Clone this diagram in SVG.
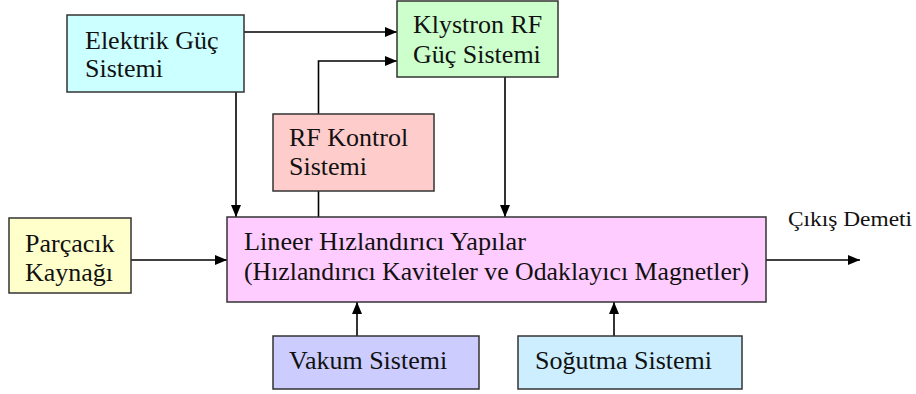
<svg xmlns="http://www.w3.org/2000/svg" width="916" height="394" viewBox="0 0 916 394">
<defs>
<marker id="ah" viewBox="0 0 12 10" refX="12" refY="5" markerWidth="12" markerHeight="10" markerUnits="userSpaceOnUse" orient="auto">
<path d="M0,0 L12,5 L0,10 Z" fill="#000"/>
</marker>
<style>
.box{stroke:#333;stroke-width:1.5}
.t{font-family:"Liberation Serif","Times New Roman",serif;font-size:26px;fill:#111}
.c{fill:none;stroke:#000;stroke-width:1.6;marker-end:url(#ah)}
.l{fill:none;stroke:#000;stroke-width:1.6}
</style>
</defs>
<rect width="916" height="394" fill="#fff"/>
<g id="connectors">
<path class="c" d="M244,32 H397"/>
<path class="l" d="M318.5,217 V114"/>
<path class="c" d="M318.5,114 V61 H397"/>
<path class="c" d="M236,92 V217"/>
<path class="c" d="M505,77 V217"/>
<path class="c" d="M131,260 H227"/>
<path class="c" d="M766,260 H860"/>
<path class="c" d="M357,336 V302"/>
<path class="c" d="M614,336 V302"/>
</g>
<g id="elektrik">
<rect class="box" x="67" y="15" width="177" height="77" fill="#ccffff"/>
<text class="t" x="85" y="49">Elektrik Güç</text>
<text class="t" x="85" y="77">Sistemi</text>
</g>
<g id="klystron">
<rect class="box" x="397" y="1" width="161" height="76" fill="#ccffcc"/>
<text class="t" x="413" y="33">Klystron RF</text>
<text class="t" x="413" y="63">Güç Sistemi</text>
</g>
<g id="rfkontrol">
<rect class="box" x="273" y="114" width="161" height="77" fill="#ffcccc"/>
<text class="t" x="289" y="146">RF Kontrol</text>
<text class="t" x="289" y="175">Sistemi</text>
</g>
<g id="parcacik">
<rect class="box" x="9" y="218" width="122" height="75" fill="#ffffcc"/>
<text class="t" x="25" y="252">Parçacık</text>
<text class="t" x="25" y="281">Kaynağı</text>
</g>
<g id="linac">
<rect class="box" x="227" y="217" width="539" height="85" fill="#ffccff"/>
<text class="t" x="244" y="250" textLength="282" lengthAdjust="spacingAndGlyphs">Lineer Hızlandırıcı Yapılar</text>
<text class="t" x="244" y="280" textLength="505" lengthAdjust="spacingAndGlyphs">(Hızlandırıcı Kaviteler ve Odaklayıcı Magnetler)</text>
</g>
<g id="cikis">
<text class="t" x="788" y="226" style="font-size:21px" textLength="124" lengthAdjust="spacingAndGlyphs">Çıkış Demeti</text>
</g>
<g id="vakum">
<rect class="box" x="273" y="336" width="206" height="53" fill="#ccccff"/>
<text class="t" x="289" y="369">Vakum Sistemi</text>
</g>
<g id="sogutma">
<rect class="box" x="518" y="336" width="224" height="53" fill="#cceeff"/>
<text class="t" x="535" y="369">Soğutma Sistemi</text>
</g>
</svg>
